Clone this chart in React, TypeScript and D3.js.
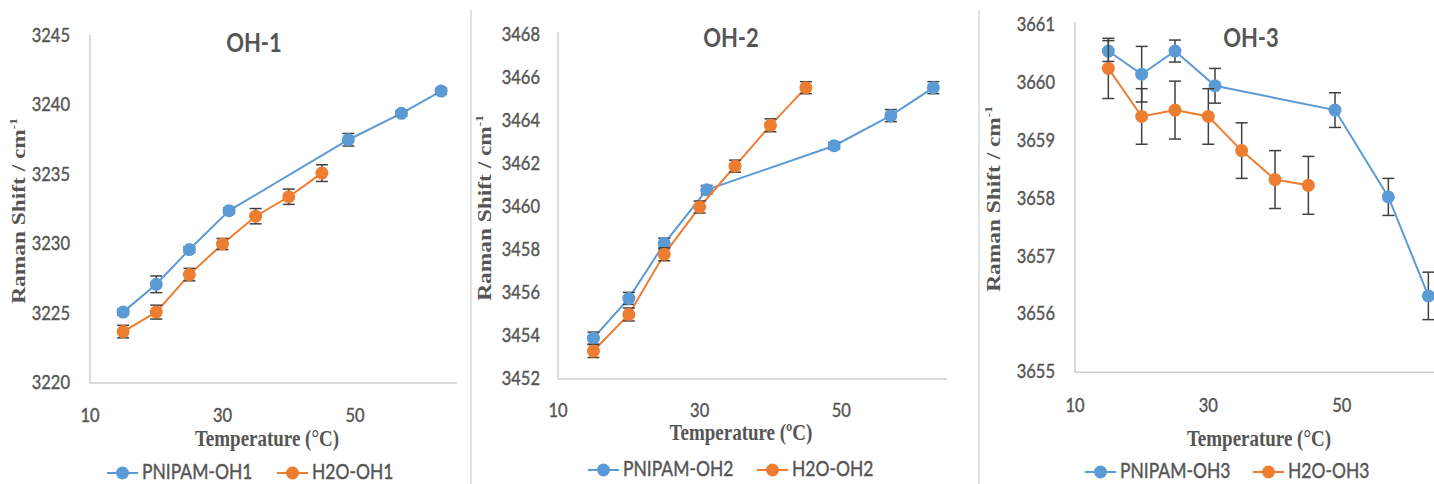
import React from "react";
import * as d3 from "d3";

// Temperatures (°C) at which each series was measured
const tempsPNIPAM = [15, 20, 25, 31, 49, 57, 63];
const tempsH2O = [15, 20, 25, 30, 35, 40, 45];

// OH-1 band positions (cm-1) and standard deviations
const oh1PNIPAM = [3225.1, 3227.1, 3229.6, 3232.4, 3237.5, 3239.4, 3241.0];
const oh1PNIPAMErr = [0.2, 0.6, 0.2, 0.2, 0.45, 0.2, 0.2];
const oh1H2O = [3223.7, 3225.1, 3227.8, 3230.0, 3232.0, 3233.4, 3235.1];
const oh1H2OErr = [0.45, 0.5, 0.45, 0.4, 0.55, 0.55, 0.6];

// OH-2 band positions
const oh2PNIPAM = [3453.9, 3455.75, 3458.3, 3460.8, 3462.85, 3464.25, 3465.55];
const oh2PNIPAMErr = [0.28, 0.28, 0.25, 0.2, 0.15, 0.28, 0.28];
const oh2H2O = [3453.3, 3455.0, 3457.8, 3460.0, 3461.9, 3463.8, 3465.55];
const oh2H2OErr = [0.3, 0.3, 0.3, 0.28, 0.28, 0.3, 0.28];

// OH-3 band positions
const oh3PNIPAM = [3660.55, 3660.15, 3660.55, 3659.95, 3659.53, 3658.03, 3656.32];
const oh3PNIPAMErr = [0.18, 0.48, 0.19, 0.3, 0.3, 0.32, 0.41];
const oh3H2O = [3660.25, 3659.42, 3659.53, 3659.42, 3658.83, 3658.33, 3658.23];
const oh3H2OErr = [0.52, 0.48, 0.5, 0.48, 0.48, 0.5, 0.5];

// Axis ticks
const xTicks = [10, 30, 50];
const yTicks1 = [3220, 3225, 3230, 3235, 3240, 3245];
const yTicks2 = [3452, 3454, 3456, 3458, 3460, 3462, 3464, 3466, 3468];
const yTicks3 = [3655, 3656, 3657, 3658, 3659, 3660, 3661];

const titles = ["OH-1", "OH-2", "OH-3"];
const xTitles = ["Temperature (°C)", "Temperature (ºC)", "Temperature (°C)"];
const legendPNIPAM = ["PNIPAM-OH1", "PNIPAM-OH2", "PNIPAM-OH3"];
const legendH2O = ["H2O-OH1", "H2O-OH2", "H2O-OH3"];

const BLUE = "#5b9bd5";
const ORANGE = "#ed7d31";
const TEXT = "#555555";
const AXIS = "#cfcfcf";
const ERR = "#404040";
const SANS = "Lato, 'Open Sans', sans-serif";
const SERIF = "'Liberation Serif', 'DejaVu Serif', serif";
const STRETCH = 1.2;

type Panel = {
  x0: number; x1: number; y0: number; y1: number;
  yDomain: [number, number]; yTicks: number[];
  blue: number[]; blueErr: number[]; orange: number[]; orangeErr: number[];
  yLabelRight: number; xLabelBase: number;
  title: [number, number]; xTitle: [number, number]; yTitle: [number, number];
  legendY: number; legendBlue: number; legendOrange: number;
  axisTop: number; axisRight: number;
};

const panels: Panel[] = [
  {
    x0: 90, x1: 454.4, y0: 383, y1: 35.5, yDomain: [3220, 3245], yTicks: yTicks1,
    blue: oh1PNIPAM, blueErr: oh1PNIPAMErr, orange: oh1H2O, orangeErr: oh1H2OErr,
    yLabelRight: 70, xLabelBase: 422, title: [254, 52], xTitle: [267, 446], yTitle: [25, 211],
    legendY: 473, legendBlue: 107, legendOrange: 277, axisTop: 35, axisRight: 457,
  },
  {
    x0: 558, x1: 947.5, y0: 379, y1: 35, yDomain: [3452, 3468], yTicks: yTicks2,
    blue: oh2PNIPAM, blueErr: oh2PNIPAMErr, orange: oh2H2O, orangeErr: oh2H2OErr,
    yLabelRight: 540, xLabelBase: 417, title: [731, 47], xTitle: [741, 440], yTitle: [491, 208],
    legendY: 470, legendBlue: 588, legendOrange: 757, axisTop: 32, axisRight: 947,
  },
  {
    x0: 1075, x1: 1441.7, y0: 372.3, y1: 25, yDomain: [3655, 3661], yTicks: yTicks3,
    blue: oh3PNIPAM, blueErr: oh3PNIPAMErr, orange: oh3H2O, orangeErr: oh3H2OErr,
    yLabelRight: 1055, xLabelBase: 412, title: [1251, 47], xTitle: [1259, 446], yTitle: [1000, 199],
    legendY: 472, legendBlue: 1085, legendOrange: 1253, axisTop: 22, axisRight: 1434,
  },
];

function Series({ xs, ys, errs, color, x, y }: {
  xs: number[]; ys: number[]; errs: number[]; color: string;
  x: d3.ScaleLinear<number, number>; y: d3.ScaleLinear<number, number>;
}) {
  const line = d3.line<number>().x((_, i) => x(xs[i])).y((v) => y(v));
  return (
    <g>
      <path d={line(ys) || ""} fill="none" stroke={color} strokeWidth={2} />
      {ys.map((v, i) => {
        const cx = x(xs[i]);
        const top = y(v + errs[i]);
        const bot = y(v - errs[i]);
        return (
          <g key={"e" + i} stroke={ERR} strokeWidth={1.5}>
            <line x1={cx} x2={cx} y1={top} y2={bot} />
            <line x1={cx - 6} x2={cx + 6} y1={top} y2={top} />
            <line x1={cx - 6} x2={cx + 6} y1={bot} y2={bot} />
          </g>
        );
      })}
      {ys.map((v, i) => (
        <circle key={"m" + i} cx={x(xs[i])} cy={y(v)} r={6.5} fill={color} />
      ))}
    </g>
  );
}

// Sans labels get a hairline outline to thicken the regular weight slightly
const sansLabel = { fontFamily: SANS, fill: TEXT, stroke: TEXT, strokeWidth: 0.35 };

function ChartPanel({ p, idx }: { p: Panel; idx: number }) {
  const x = d3.scaleLinear().domain([10, 65]).range([p.x0, p.x1]);
  const y = d3.scaleLinear().domain(p.yDomain).range([p.y0, p.y1]);
  const hs = `scale(1,${STRETCH})`;
  return (
    <g>
      {/* axes */}
      <line x1={p.x0} x2={p.x0} y1={p.axisTop} y2={p.y0} stroke={AXIS} strokeWidth={1.5} />
      <line x1={p.x0} x2={p.axisRight} y1={p.y0} y2={p.y0} stroke={AXIS} strokeWidth={1.5} />
      {p.yTicks.map((t) => (
        <text key={t} transform={`translate(${p.yLabelRight},${y(t) + 6}) ${hs}`}
          textAnchor="end" fontSize={16.5} {...sansLabel}>{t}</text>
      ))}
      {xTicks.map((t) => (
        <text key={t} transform={`translate(${x(t)},${p.xLabelBase}) ${hs}`}
          textAnchor="middle" fontSize={16.5} {...sansLabel}>{t}</text>
      ))}
      {/* titles */}
      <text transform={`translate(${p.title[0]},${p.title[1]}) ${hs}`} textAnchor="middle"
        fontFamily={SANS} fontWeight="bold" fontSize={22} fill={TEXT}>{titles[idx]}</text>
      <text transform={`translate(${p.xTitle[0]},${p.xTitle[1]}) ${hs}`} textAnchor="middle"
        fontFamily={SERIF} fontWeight="bold" fontSize={19} fill={TEXT}>{xTitles[idx]}</text>
      <text transform={`translate(${p.yTitle[0]},${p.yTitle[1]}) rotate(-90) scale(${STRETCH},1)`}
        textAnchor="middle" fontFamily={SERIF} fontWeight="bold" fontSize={19.5} fill={TEXT}>
        Raman Shift / cm<tspan fontSize={11} dy={-8}>-1</tspan>
      </text>
      {/* data */}
      <Series xs={tempsPNIPAM} ys={p.blue} errs={p.blueErr} color={BLUE} x={x} y={y} />
      <Series xs={tempsH2O} ys={p.orange} errs={p.orangeErr} color={ORANGE} x={x} y={y} />
      {/* legend */}
      <g>
        <line x1={p.legendBlue} x2={p.legendBlue + 31} y1={p.legendY} y2={p.legendY} stroke={BLUE} strokeWidth={2} />
        <circle cx={p.legendBlue + 15.5} cy={p.legendY} r={6.5} fill={BLUE} />
        <text transform={`translate(${p.legendBlue + 35},${p.legendY + 6}) ${hs}`}
          fontSize={17.5} {...sansLabel}>{legendPNIPAM[idx]}</text>
        <line x1={p.legendOrange} x2={p.legendOrange + 31} y1={p.legendY} y2={p.legendY} stroke={ORANGE} strokeWidth={2} />
        <circle cx={p.legendOrange + 15.5} cy={p.legendY} r={6.5} fill={ORANGE} />
        <text transform={`translate(${p.legendOrange + 35},${p.legendY + 6}) ${hs}`}
          fontSize={17.5} {...sansLabel}>{legendH2O[idx]}</text>
      </g>
    </g>
  );
}

export default function App() {
  return (
    <svg width={1434} height={484} style={{ position: "absolute", left: 0, top: 0, background: "#fff" }}>
      <rect width={1434} height={484} fill="#fff" />
      <line x1={471} x2={471} y1={10} y2={484} stroke="#d9d9d9" strokeWidth={1.5} />
      <line x1={979} x2={979} y1={10} y2={484} stroke="#d9d9d9" strokeWidth={1.5} />
      {panels.map((p, i) => <ChartPanel key={i} p={p} idx={i} />)}
    </svg>
  );
}
